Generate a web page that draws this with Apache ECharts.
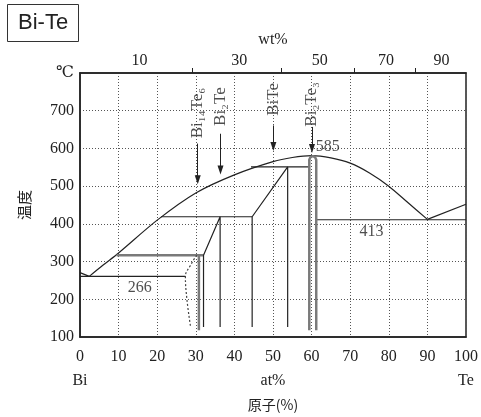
<!DOCTYPE html>
<html>
<head>
<meta charset="utf-8">
<script src="https://cdn.jsdelivr.net/npm/echarts@6/dist/echarts.min.js"></script>
<style>
  html, body { margin: 0; padding: 0; background: #fff; }
  #chart { width: 481px; height: 417px; }
</style>
</head>
<body>
<div id="chart"></div>
<script>
// at% Te axis and temperature axis
const atTicks = [0, 10, 20, 30, 40, 50, 60, 70, 80, 90, 100];
const tempMin = 100;
const tempMax = 800;
// top axis (wt% Te)
const wtTickValues = [20, 40, 60, 80];
const wtLabelValues = [10, 30, 50, 70, 90];

// liquidus
const liquidusBi = [[0, 271], [2.4, 261]];
const liquidusMain = [[2.4, 261], [6, 291], [10, 323], [20, 410], [30, 482], [40, 530], [50, 565], [55, 576], [60, 581], [65, 575], [70, 561], [75, 535], [80, 500], [85, 456], [90, 412]];
const liquidusTe = [[90, 412], [100, 452]];

// horizontal reaction lines
const eutecticBi = [[0, 261], [27.3, 261]];
const line317 = [[9.5, 317], [32, 317]];
const line419 = [[21, 419], [44.6, 419]];
const line551 = [[44.3, 551], [59.4, 551]];
const eutecticTe = [[61.2, 411], [100, 411]];

// phase boundaries
const phaseA = [[32, 127], [32, 317], [36.3, 419], [36.3, 127]];
const phaseB = [[44.6, 127], [44.6, 419], [53.8, 551], [53.8, 127]];
const bi14te6 = [[30.8, 316], [30.8, 118]];
const bi2te3 = [[59.4, 118], [59.4, 570], [59.7, 577], [60.3, 580], [60.9, 577], [61.2, 570], [61.2, 118]];
const solvus = [[28.6, 130], [27.7, 200], [27.3, 261], [28.6, 290], [30.2, 317]];

// compound labels and arrows
const compoundNames = ['Bi₁₄Te₆', 'Bi₂Te', 'BiTe', 'Bi₂Te₃'];
const compoundX = [30.5, 36.4, 50.1, 60.1];
const compoundLabelT = [694, 711, 730, 717];
const arrowFromT = [613, 639, 661, 657];
const arrowToT = [517, 543, 605, 600];

// temperature notes
const noteTexts = ['266', '413', '585'];
const notePos = [[15.5, 232], [75.5, 378], [64.2, 605]];

const serif = 'Liberation Serif, DejaVu Serif, Noto Sans CJK JP, serif';
const cjk = 'Noto Sans CJK JP, sans-serif';

const atToWt = (a) => 100 * a * 127.6 / (a * 127.6 + (100 - a) * 208.98);
const wtToAt = (w) => 100 * (w / 127.6) / (w / 127.6 + (100 - w) / 208.98);

const chart = echarts.init(document.getElementById('chart'));

const lineSeries = (data, opts) => Object.assign({
  type: 'line',
  data: data,
  showSymbol: false,
  symbol: 'none',
  silent: true,
  lineStyle: {color: '#222', width: 1.2},
  xAxisIndex: 0,
  yAxisIndex: 0
}, opts || {});

const grey = {color: '#7a7a7a', width: 2.5};

const option = {
  animation: false,
  title: {
    text: 'Bi-Te',
    left: 7,
    top: 4,
    padding: [8, 11],
    borderColor: '#333',
    borderWidth: 1,
    textStyle: {fontSize: 22, fontWeight: 'normal', color: '#222', fontFamily: 'Liberation Sans, Arial, sans-serif'}
  },
  grid: {
    left: 80,
    right: 13,
    top: 73,
    bottom: 75,
    show: true,
    borderColor: '#222',
    borderWidth: 1.5
  },
  xAxis: [
    {
      type: 'value',
      min: 0,
      max: 100,
      interval: 10,
      name: '原子(%)',
      nameLocation: 'middle',
      nameGap: 60,
      nameTextStyle: {fontSize: 14, fontFamily: cjk, color: '#222'},
      axisLine: {lineStyle: {color: '#222', width: 1.5}},
      axisTick: {show: false},
      axisLabel: {
        margin: 8,
        fontSize: 16,
        lineHeight: 24,
        fontFamily: serif,
        color: '#222',
        formatter: function (v) {
          if (v === 0) return '0\nBi';
          if (v === 50) return '50\nat%';
          if (v === 100) return '100\nTe';
          return String(v);
        }
      },
      splitLine: {lineStyle: {type: [1, 2], color: '#555', width: 1}}
    },
    {
      type: 'value',
      position: 'top',
      min: 0,
      max: 100,
      name: 'wt%',
      nameLocation: 'middle',
      nameGap: 25,
      nameTextStyle: {fontSize: 16, fontFamily: serif, color: '#222'},
      axisLine: {lineStyle: {color: '#222', width: 1.5}},
      axisTick: {show: true, length: 5, customValues: wtTickValues.map(wtToAt), lineStyle: {color: '#222'}},
      axisLabel: {
        margin: 4,
        fontSize: 16,
        fontFamily: serif,
        color: '#222',
        customValues: wtLabelValues.map(wtToAt),
        formatter: function (v) { return String(Math.round(atToWt(v))); }
      },
      splitLine: {show: false}
    }
  ],
  yAxis: {
    type: 'value',
    min: tempMin,
    max: tempMax,
    interval: 100,
    name: '温度',
    nameLocation: 'middle',
    nameGap: 48,
    nameTextStyle: {fontSize: 15, fontFamily: cjk, color: '#222'},
    axisLine: {lineStyle: {color: '#222', width: 1.5}},
    axisTick: {show: false},
    axisLabel: {
      margin: 6,
      fontSize: 16,
      fontFamily: serif,
      color: '#222',
      formatter: function (v) { return v === tempMax ? '℃' : String(v); }
    },
    splitLine: {lineStyle: {type: [1, 2], color: '#555', width: 1}}
  },
  series: [
    lineSeries(liquidusBi),
    lineSeries(liquidusMain, {smooth: 0.3}),
    lineSeries(liquidusTe),
    lineSeries(eutecticBi),
    lineSeries(line317, {lineStyle: grey}),
    lineSeries(line419),
    lineSeries(line551),
    lineSeries(eutecticTe),
    lineSeries(phaseA),
    lineSeries(phaseB),
    lineSeries(bi14te6, {lineStyle: grey}),
    lineSeries(bi2te3, {lineStyle: grey}),
    lineSeries(solvus, {smooth: 0.4, lineStyle: {color: '#444', width: 1.2, type: [2, 2]}}),
    {
      type: 'scatter',
      silent: true,
      symbolSize: 0,
      data: compoundNames.map((n, i) => [compoundX[i], compoundLabelT[i], n]),
      label: {
        show: true,
        position: 'inside',
        rotate: 90,
        fontSize: 17,
        fontFamily: serif,
        color: '#222',
        formatter: (p) => p.data[2]
      },
      markLine: {
        silent: true,
        symbol: ['none', 'triangle'],
        symbolSize: [6, 9],
        symbolRotate: 180,
        label: {show: false},
        lineStyle: {color: '#222', width: 1, type: 'solid'},
        data: compoundX.map((x, i) => [{coord: [x, arrowFromT[i]]}, {coord: [x, arrowToT[i]]}])
      }
    },
    {
      type: 'scatter',
      silent: true,
      symbolSize: 0,
      data: noteTexts.map((t, i) => [notePos[i][0], notePos[i][1], t]),
      label: {
        show: true,
        position: 'inside',
        fontSize: 16,
        fontFamily: serif,
        color: '#222',
        formatter: (p) => p.data[2]
      }
    }
  ]
};

chart.setOption(option);
</script>
</body>
</html>
